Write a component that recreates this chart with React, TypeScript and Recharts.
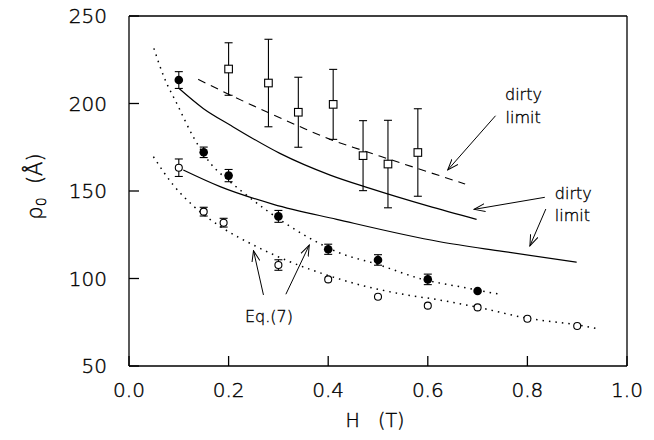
import React from 'react';
import {
  ComposedChart, Line, Scatter, ErrorBar, XAxis, YAxis,
  ReferenceLine, ReferenceDot,
} from 'recharts';

const FONT = '"DejaVu Sans", sans-serif';

const xTicks = [0, 0.2, 0.4, 0.6, 0.8, 1.0];
const yTicks = [50, 100, 150, 200, 250];

// filled circles
const filledH = [0.1, 0.15, 0.2, 0.3, 0.4, 0.5, 0.6, 0.7];
const filledRho = [213.4, 172.1, 158.8, 135.5, 116.7, 110.6, 99.5, 92.9];
const filledErr = [4.8, 3, 3.5, 3.4, 2.9, 3, 3, 0];

// open circles
const openH = [0.1, 0.15, 0.19, 0.3, 0.4, 0.5, 0.6, 0.7, 0.8, 0.9];
const openRho = [163.3, 138.2, 131.9, 107.7, 99.5, 89.6, 84.5, 83.5, 77, 72.9];
const openErr = [5, 2.5, 2.5, 3, 0, 0, 0, 0, 0, 0];

// open squares
const squareH = [0.2, 0.28, 0.34, 0.41, 0.47, 0.52, 0.58];
const squareRho = [219.7, 211.7, 195, 199.5, 170.2, 165.4, 172];
const squareErr = [15, 25, 20, 20, 20, 25, 25];

// dirty limit curves
const solidUpperH = [0.1, 0.149, 0.203, 0.303, 0.404, 0.484, 0.6, 0.698];
const solidUpperRho = [208.7, 197.2, 187.7, 171.5, 159.1, 151.5, 141.5, 133.8];
const solidLowerH = [0.109, 0.183, 0.29, 0.417, 0.624, 0.75, 0.899];
const solidLowerRho = [162, 152.5, 142.4, 133.8, 121, 115.5, 109.3];
const dashedH = [0.139, 0.203, 0.283, 0.343, 0.404, 0.467, 0.517, 0.578, 0.675];
const dashedRho = [213.8, 204.9, 194.4, 186.8, 179.5, 173.4, 168.7, 163, 154];

// Eq.(7) curves
const eqUpperH = [0.05, 0.07, 0.096, 0.129, 0.163, 0.2, 0.223, 0.276, 0.357, 0.417, 0.5, 0.59, 0.67, 0.742];
const eqUpperRho = [231.5, 215.3, 200, 181, 166, 156, 150.6, 139, 124, 115.3, 108, 99.5, 95, 91.1];
const eqLowerH = [0.049, 0.089, 0.129, 0.189, 0.25, 0.323, 0.397, 0.464, 0.55, 0.624, 0.7, 0.8, 0.9, 0.946];
const eqLowerRho = [169.6, 153.4, 141.5, 128.7, 119.1, 109.6, 102, 96.3, 91, 87.7, 83.6, 77.3, 73.5, 71.1];

// annotation arrows [fromH, fromRho, toH, toRho]
const arrows = [
  [0.736, 193.0, 0.64, 162.0],
  [0.835, 146.4, 0.693, 139.5],
  [0.837, 139.7, 0.805, 118.6],
  [0.27, 90.6, 0.25, 115.9],
  [0.315, 91.0, 0.362, 119.1],
];

const pts = (hs: number[], rs: number[], es?: number[]) =>
  hs.map((h, i) => ({ h, rho: rs[i], err: es ? es[i] : undefined }));

const filledCircle = (p: any) => <circle cx={p.cx} cy={p.cy} r={4.3} fill="#000" />;
const openCircle = (p: any) => (
  <circle cx={p.cx} cy={p.cy} r={3.5} fill="#fff" stroke="#000" strokeWidth={1.1} />
);
const openSquare = (p: any) => (
  <rect x={p.cx - 3.8} y={p.cy - 3.8} width={7.6} height={7.6} fill="#fff" stroke="#000" strokeWidth={1.1} />
);

const arrowShape = (p: any) => (
  <line x1={p.x1} y1={p.y1} x2={p.x2} y2={p.y2} stroke="#000" strokeWidth={1} markerEnd="url(#arrowhead)" />
);

const yLabel = (p: any) => {
  const vb = p.viewBox;
  const cx = vb.x + 35;
  const cy = vb.y + vb.height / 2 - 4.5;
  return (
    <text x={cx} y={cy} transform={`rotate(-90 ${cx} ${cy})`} textAnchor="middle" dominantBaseline="central"
      fontFamily={FONT} fontWeight={200} fontSize={21} fill="#000" stroke="#000" strokeWidth={0.4}>
      ρ<tspan dy={6} fontSize={14}>0</tspan><tspan dy={-6}>{'\u00a0\u00a0(Å)'}</tspan>
    </text>
  );
};

const xLabel = (p: any) => {
  const vb = p.viewBox;
  return (
    <text x={vb.x + vb.width / 2 - 3} y={vb.y + 61} textAnchor="middle"
      fontFamily={FONT} fontWeight={200} fontSize={19} fill="#000" stroke="#000" strokeWidth={0.4}>
      {'H\u00a0\u00a0\u00a0(T)'}
    </text>
  );
};

const note = (h: number, rho: number, text: string, pos: 'right' | 'center') => (
  <ReferenceDot key={text + h + rho} x={h} y={rho} r={0} stroke="none"
    label={{
      value: text, position: pos, offset: 0, fontSize: 16, fontFamily: FONT, fontWeight: 200,
      fill: '#000', stroke: '#000', strokeWidth: 0.35,
    }} />
);

const axisStroke = { stroke: '#000', strokeWidth: 1.3 };
const tickFont = { fill: '#000', fontSize: 20, fontFamily: FONT, fontWeight: 200, stroke: '#000', strokeWidth: 0.4 };

export default function App() {
  return (
    <div style={{ position: 'absolute', left: 0, top: 0, width: 654, height: 440, background: '#fff' }}>
      <svg width={0} height={0} style={{ position: 'absolute' }}>
        <defs>
          <marker id="arrowhead" viewBox="0 0 12 10" refX="11" refY="5" markerWidth="12" markerHeight="10"
            markerUnits="userSpaceOnUse" orient="auto">
            <path d="M0,1 L11,5 L0,9" fill="none" stroke="#000" strokeWidth={1} />
          </marker>
        </defs>
      </svg>
      <ComposedChart width={654} height={440} margin={{ top: 0, right: 0, bottom: 0, left: 0 }}>
        <XAxis type="number" dataKey="h" domain={[0, 1]} ticks={xTicks} allowDataOverflow
          tickFormatter={(v: number) => v.toFixed(1)} height={74} tickSize={-10} tickMargin={27}
          axisLine={axisStroke} tickLine={axisStroke} tick={tickFont} label={xLabel} />
        <XAxis xAxisId="top" orientation="top" type="number" domain={[0, 1]} ticks={xTicks}
          height={16} tickSize={-10} axisLine={axisStroke} tickLine={axisStroke} tick={false} />
        <YAxis type="number" dataKey="rho" domain={[50, 250]} ticks={yTicks} allowDataOverflow
          width={129} tickSize={-10} tickMargin={32} axisLine={axisStroke} tickLine={axisStroke}
          tick={tickFont} label={yLabel} />
        <YAxis yAxisId="right" orientation="right" type="number" domain={[50, 250]} ticks={yTicks}
          width={27} tickSize={-10} axisLine={axisStroke} tickLine={axisStroke} tick={false} />

        <Line data={pts(solidUpperH, solidUpperRho)} dataKey="rho" type="monotone" stroke="#000"
          strokeWidth={1.2} dot={false} isAnimationActive={false} />
        <Line data={pts(solidLowerH, solidLowerRho)} dataKey="rho" type="monotone" stroke="#000"
          strokeWidth={1.2} dot={false} isAnimationActive={false} />
        <Line data={pts(dashedH, dashedRho)} dataKey="rho" type="monotone" stroke="#000"
          strokeWidth={1.1} strokeDasharray="8 6" dot={false} isAnimationActive={false} />
        <Line data={pts(eqUpperH, eqUpperRho)} dataKey="rho" type="monotone" stroke="#000"
          strokeWidth={1.5} strokeDasharray="1.5 5" dot={false} isAnimationActive={false} />
        <Line data={pts(eqLowerH, eqLowerRho)} dataKey="rho" type="monotone" stroke="#000"
          strokeWidth={1.5} strokeDasharray="1.5 5" dot={false} isAnimationActive={false} />

        <Scatter data={pts(squareH, squareRho, squareErr)} dataKey="rho" shape={openSquare} isAnimationActive={false}>
          <ErrorBar dataKey="err" direction="y" width={4} stroke="#000" strokeWidth={1.1} isAnimationActive={false} />
        </Scatter>
        <Scatter data={pts(filledH, filledRho, filledErr)} dataKey="rho" shape={filledCircle} isAnimationActive={false}>
          <ErrorBar dataKey="err" direction="y" width={4} stroke="#000" strokeWidth={1.1} isAnimationActive={false} />
        </Scatter>
        <Scatter data={pts(openH, openRho, openErr)} dataKey="rho" shape={openCircle} isAnimationActive={false}>
          <ErrorBar dataKey="err" direction="y" width={4} stroke="#000" strokeWidth={1.1} isAnimationActive={false} />
        </Scatter>

        {arrows.map((a, i) => (
          <ReferenceLine key={'arr' + i} segment={[{ x: a[0], y: a[1] }, { x: a[2], y: a[3] }]}
            shape={arrowShape} ifOverflow="visible" />
        ))}

        {note(0.755, 205.4, 'dirty', 'right')}
        {note(0.756, 192.3, 'limit', 'right')}
        {note(0.855, 148.9, 'dirty', 'right')}
        {note(0.855, 136.3, 'limit', 'right')}
        {note(0.281, 78.6, 'Eq.(7)', 'center')}
      </ComposedChart>
    </div>
  );
}
